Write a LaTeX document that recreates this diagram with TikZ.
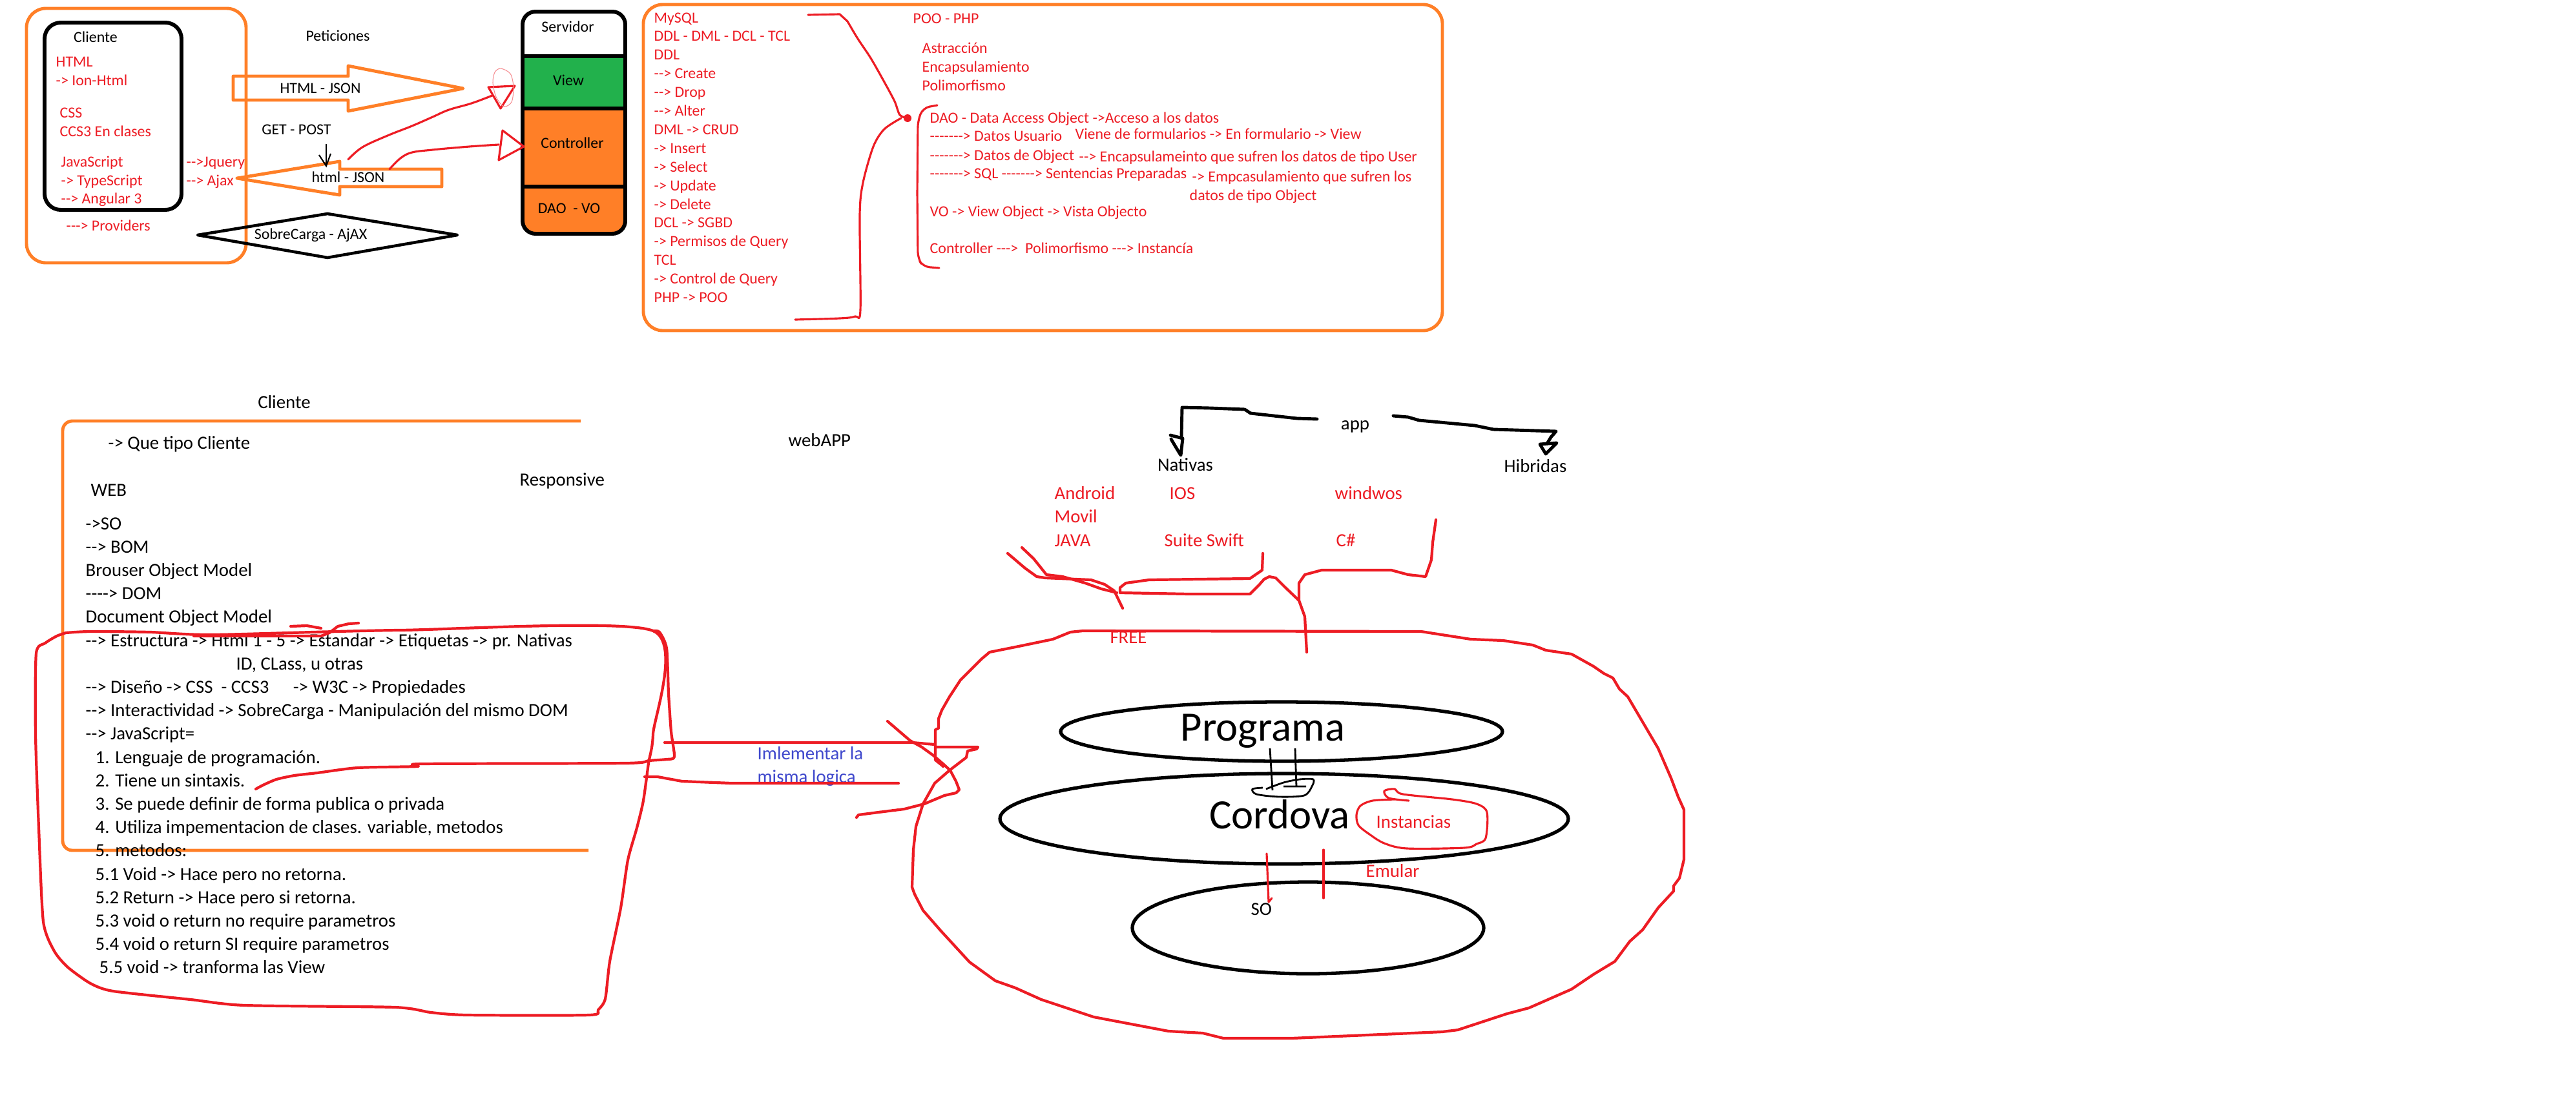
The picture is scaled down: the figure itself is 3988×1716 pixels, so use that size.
\documentclass[tikz,border=0pt]{standalone}
\usepackage{fontspec}
\setmainfont{Carlito}[Ligatures=TeXOff]
\usetikzlibrary{shapes.geometric}
\definecolor{rojo}{HTML}{ED1C24}
\definecolor{naranja}{HTML}{FF7F27}
\definecolor{verde}{HTML}{22B14C}
\definecolor{azul}{HTML}{3F48CC}

\begin{document}
\begin{tikzpicture}[x=0.1mm, y=-0.1mm,
    sm/.style={font=\fontsize{6.8}{8}\selectfont, inner sep=0pt, anchor=base west},
    md/.style={font=\fontsize{8.2}{10}\selectfont, inner sep=0pt, anchor=base west},
    big/.style={font=\fontsize{18.4}{21}\selectfont, inner sep=0pt, anchor=base},
    rtxt/.style={text=rojo},
    orng/.style={draw=naranja, line width=1.4pt, line join=round},
    trazo/.style={draw=rojo, line width=1.2pt, line join=round, line cap=round},
    fino/.style={draw=rojo, line width=0.9pt, line join=round, line cap=round},
    blk/.style={draw=black, line width=1.4pt, line join=round, line cap=round},
    oval/.style={ellipse, draw, line width=1.5pt, inner sep=0pt}]

\useasboundingbox[fill=white] (0,0) rectangle (3988,1716);

% cliente / servidor
\draw[orng, rounded corners=3mm] (41,13) rectangle (381,407);
\draw[line width=1.7pt, rounded corners=2.5mm] (69,35) rectangle (281,325);
\node[sm, anchor=base] (cliente) at (148,65) {Cliente};
\node[sm, rtxt] (html) at (86,103) {HTML};
\node[sm, rtxt] (ionhtml) at (86,132) {-> Ion-Html};
\node[sm, rtxt] (css) at (92,182) {CSS};
\node[sm, rtxt] (ccs) at (92,211) {CCS3 En clases};
\node[sm, rtxt] (js) at (94,258) {JavaScript};
\node[sm, rtxt] (ts) at (94,287) {-> TypeScript};
\node[sm, rtxt] (ang) at (94,315) {--> Angular 3};
\node[sm, rtxt] (jquery) at (288,258) {-->Jquery};
\node[sm, rtxt] (ajax) at (288,287) {--> Ajax};
\node[sm, rtxt] (prov) at (102,357) {---> Providers};

\node[sm, anchor=base] (peticiones) at (523,63) {Peticiones};
\draw[orng] (361,118) -- (539,118) -- (539,102) -- (717,137) -- (539,172) -- (539,155) -- (361,155) -- cycle;
\node[sm, anchor=base] (htmljson) at (496,144) {HTML - JSON};
\node[sm, anchor=base] (getpost) at (459,208) {GET - POST};
\draw[orng] (684,262) -- (526,262) -- (526,250) -- (367,276) -- (526,302) -- (526,289) -- (684,289) -- cycle;
\node[sm, anchor=base] (htmljson2) at (539,282) {html - JSON};
\draw[line width=0.6pt] (505,223) -- (505,257);
\draw[line width=0.6pt] (494,240) -- (505,257) -- (512,238);
\draw[line width=1.3pt, line join=round] (306,364) -- (507,331) -- (708,364) -- (507,399) -- cycle;
\node[sm, anchor=base] (sobrecarga) at (481,370) {SobreCarga - AjAX};

\fill[naranja, rounded corners=2mm] (809,18) rectangle (968,362);
\fill[white, rounded corners=2mm] (809,18) rectangle (968,130);
\fill[verde] (809,87) rectangle (968,168);
\draw[line width=1.7pt] (809,87) -- (968,87) (809,168) -- (968,168) (809,289) -- (968,289);
\draw[line width=1.7pt, rounded corners=2mm] (809,18) rectangle (968,362);
\node[sm, anchor=base] (servidor) at (879,49) {Servidor};
\node[sm, anchor=base] (view) at (880,132) {View};
\node[sm, anchor=base] (controller) at (886,229) {Controller};
\node[sm, anchor=base] (daovo) at (881,330) {DAO\ \ - VO};

\draw[fino] plot[smooth, tension=0.6] coordinates {(539,247) (561,228) (600,210) (638,195) (670,181) (695,170) (730,160) (762,148)};
\draw[fino] (756,135) -- (797,133) -- (775,168) -- cycle;
\draw[rojo!50, line width=0.3pt] plot[smooth cycle] coordinates {(775,106) (790,114) (795,135) (792,158) (780,165) (768,150) (763,128) (766,112)};
\draw[fino] plot[smooth, tension=0.6] coordinates {(603,262) (620,245) (638,236) (670,232) (702,229) (740,226) (772,224)};
\draw[fino] (778,202) -- (811,227) -- (772,248) -- cycle;

% base de datos / POO
\draw[orng, rounded corners=3mm] (996,7) rectangle (2233,512);
\foreach \t [count=\i from 0] in {MySQL, DDL - DML - DCL - TCL, DDL, --> Create, --> Drop, --> Alter,
    DML -> CRUD, -> Insert, -> Select, -> Update, -> Delete, DCL -> SGBD,
    -> Permisos de Query, TCL, -> Control de Query, PHP -> POO}
  \node[sm, rtxt] (sql\i) at (1012,{35+28.9*\i}) {\t};
\draw[fino] (1251,23) -- (1300,22) -- (1312,33);
\draw[fino] plot[smooth, tension=0.5] coordinates {(1312,33) (1328,60) (1348,90) (1369,127) (1385,157) (1393,178) (1405,183)};
\fill[rojo] (1405,183) circle[radius=6];
\draw[fino] plot[smooth, tension=0.5] coordinates {(1395,183) (1369,200) (1352,227) (1336,283) (1331,333) (1332,480) (1324,490) (1300,493) (1231,495)};
\draw[fino, rounded corners=1mm] (1451,163) -- (1429,167) -- (1421,187) -- (1420,300) -- (1421,400) -- (1429,413) -- (1454,415);

\node[sm, rtxt] (poo) at (1413,37) {POO - PHP};
\node[sm, rtxt] (abs) at (1427,82) {Astracción};
\node[sm, rtxt] (enc) at (1427,111) {Encapsulamiento};
\node[sm, rtxt] (pol) at (1427,140) {Polimorfismo};
\node[sm, rtxt] (dao) at (1439,190) {DAO - Data Access Object ->Acceso a los datos};
\node[sm, rtxt] (usuario) at (1439,218) {-------> Datos Usuario};
\node[sm, rtxt] (viene) at (1664,215) {Viene de formularios -> En formulario -> View};
\node[sm, rtxt] (object) at (1439,248) {-------> Datos de Object};
\node[sm, rtxt] (encuser) at (1670,250) {--> Encapsulameinto que sufren los datos de tipo User};
\node[sm, rtxt] (sqlprep) at (1439,276) {-------> SQL -------> Sentencias Preparadas};
\node[sm, rtxt] (encobj) at (1845,281) {-> Empcasulamiento que sufren los};
\node[sm, rtxt] (encobj2) at (1841,310) {datos de tipo Object};
\node[sm, rtxt] (vo) at (1439,335) {VO -> View Object -> Vista Objecto};
\node[sm, rtxt] (ctrl) at (1439,392) {Controller --->\ \ Polimorfismo ---> Instancía};

% cliente web
\node[md, anchor=base] (cliente2) at (440,632) {Cliente};
\draw[orng, rounded corners=1.5mm] (899,652) -- (97,652) -- (97,1317) -- (911,1317);
\node[md] (tipo) at (167,695) {-> Que tipo Cliente};
\node[md] (web) at (140,768) {WEB};
\node[md] (responsive) at (804,752) {Responsive};
\node[md] (webapp) at (1220,691) {webAPP};
\foreach \xx/\t [count=\i from 0] in {132/->SO, 132/--> BOM, 132/Brouser Object Model, 132/----> DOM,
    132/Document Object Model,
    132/--> Estructura -> Html 1 - 5 -> Estandar -> Etiquetas -> pr. Nativas,
    365/{ID, CLass, u otras},
    132/{--> Diseño -> CSS\ \ - CCS3\hspace{1.3em}-> W3C -> Propiedades},
    132/--> Interactividad -> SobreCarga - Manipulación del mismo DOM,
    132/--> JavaScript=,
    147/1. Lenguaje de programación.,
    147/2. Tiene un sintaxis.,
    147/3. Se puede definir de forma publica o privada,
    147/{4. Utiliza impementacion de clases. variable, metodos},
    147/5. metodos:,
    147/5.1 Void -> Hace pero no retorna.,
    147/5.2 Return -> Hace pero si retorna.,
    147/5.3 void o return no require parametros,
    147/5.4 void o return SI require parametros,
    153/5.5 void -> tranforma las View}
  \node[md] (dom\i) at (\xx,{820+36.2*\i}) {\t};

\draw[trazo] plot[smooth, tension=0.4] coordinates {(102,980) (140,978) (232,979) (330,983) (619,976) (1011,977)
    (1011,1137) (1004,1182) (996,1240) (986,1282) (972,1332) (961,1406) (944,1489) (937,1547) (926,1564) (912,1572)
    (723,1572) (667,1568) (611,1560) (379,1557) (295,1548) (175,1535) (140,1523) (105,1498) (84,1473) (67,1427)
    (60,1282) (55,1137) (56,1012) (70,996) (88,985) (102,980)};
\draw[trazo] plot[smooth, tension=0.4] coordinates {(1011,977) (1021,979) (1032,1004) (1035,1074) (1039,1133) (1044,1172)
    (1032,1176) (1004,1178) (968,1182) (653,1183) (646,1187) (554,1189) (491,1197) (456,1201) (428,1207) (407,1216) (396,1222)};
\draw[trazo] (300,985) -- (497,985) -- (510,980) -- (523,970) -- (540,966) -- (555,965);
\draw[trazo] (450,970) -- (475,969) -- (497,973);

% enlace con la app
\node[md, text=azul] (logica1) at (1172,1176) {Imlementar la};
\node[md, text=azul] (logica2) at (1172,1212) {misma logica};
\draw[trazo] (998,1203) -- (1018,1203) -- (1056,1210) -- (1132,1213) -- (1391,1213);

% app
\node[md, anchor=base] (app) at (2098,665) {app};
\node[md, anchor=base] (nativas) at (1835,729) {Nativas};
\node[md, anchor=base] (hibridas) at (2377,731) {Hibridas};
\draw[blk] (2039,649) -- (2008,648) -- (1936,640) -- (1927,634) -- (1873,632) -- (1830,631) -- (1829,677);
\draw[blk] (1812,674) -- (1831,679) -- (1828,705) -- (1820,692) -- (1813,680);
\draw[blk] (2157,644) -- (2180,646) -- (2197,651) -- (2283,659) -- (2312,665) -- (2409,668) -- (2401,677) -- (2395,687);
\draw[blk] (2384,688) -- (2410,686) -- (2393,703) -- cycle;
\node[md, rtxt] (android) at (1632,773) {Android};
\node[md, rtxt] (movil) at (1632,809) {Movil};
\node[md, rtxt] (java) at (1632,846) {JAVA};
\node[md, rtxt] (ios) at (1810,773) {IOS};
\node[md, rtxt] (swift) at (1802,846) {Suite Swift};
\node[md, rtxt] (windows) at (2066,773) {windwos};
\node[md, rtxt] (csharp) at (2068,846) {C\#};

\draw[trazo] (2223,805) -- (2218,840) -- (2216,867) -- (2207,893) -- (2180,890) -- (2154,883) -- (2046,883) -- (2020,890) -- (2011,903) -- (2011,930) -- (2020,955) -- (2023,1010);
\draw[trazo] (1955,857) -- (1954,883) -- (1935,896) -- (1779,898) -- (1743,903) -- (1734,910) -- (1734,918) -- (1841,920) -- (1935,920) -- (1950,905) -- (1957,897) -- (1965,893) -- (1975,895) -- (1990,910) -- (2011,930);
\draw[trazo] (1560,857) -- (1587,880) -- (1605,893) -- (1618,895) -- (1689,898) -- (1710,905) -- (1725,915) -- (1738,942);
\draw[trazo] (1582,848) -- (1600,865) -- (1620,890) -- (1645,893) -- (1680,903) -- (1705,912) -- (1729,918);

\node[md, rtxt, anchor=base] (free) at (1747,996) {FREE};
\draw[trazo] (1029,1150) -- (1413,1150) -- (1447,1153) -- (1449,1157) -- (1514,1157) -- (1512,1160) -- (1498,1163) -- (1496,1173)
    -- (1470,1193) -- (1447,1213) -- (1429,1245) -- (1418,1280) -- (1414,1316) -- (1412,1374) -- (1416,1385) -- (1429,1410)
    -- (1456,1441) -- (1501,1490) -- (1541,1519) -- (1572,1530) -- (1612,1548) -- (1693,1575) -- (1809,1597) -- (1862,1600)
    -- (1894,1608) -- (2000,1608) -- (2233,1598) -- (2257,1595) -- (2333,1570) -- (2367,1561) -- (2433,1532) -- (2467,1509)
    -- (2500,1489) -- (2523,1458) -- (2543,1440) -- (2567,1406) -- (2591,1380) -- (2591,1372) -- (2600,1360) -- (2607,1331)
    -- (2607,1254) -- (2598,1234) -- (2587,1205) -- (2567,1159) -- (2530,1096) -- (2520,1079) -- (2507,1067) -- (2497,1050)
    -- (2483,1043) -- (2467,1032) -- (2433,1013) -- (2393,1007) -- (2373,999) -- (2327,992) -- (2277,990) -- (2200,978)
    -- (1676,977) -- (1657,979) -- (1630,990) -- (1577,1001) -- (1532,1010) -- (1519,1021) -- (1487,1053) -- (1470,1079)
    -- (1458,1100) -- (1453,1113) -- (1453,1128) -- (1448,1130) -- (1448,1177) -- (1458,1185) -- (1460,1187);
\draw[trazo] (1374,1117) -- (1409,1147) -- (1427,1157) -- (1445,1170) -- (1460,1183) -- (1471,1193) -- (1480,1210) -- (1485,1223)
    -- (1480,1228) -- (1462,1232) -- (1431,1245) -- (1400,1253) -- (1360,1258) -- (1329,1262) -- (1326,1266);

% capas de la app
\node[oval, minimum width=68.4mm, minimum height=9.2mm] (ovprog) at (1984,1133) {};
\node[oval, minimum width=88mm, minimum height=14mm] (ovcord) at (1988,1268) {};
\node[oval, minimum width=54.4mm, minimum height=14.2mm] (ovso) at (2025,1437) {};
\node[big] (programa) at (1955,1147) {Programa};
\node[big] (cordova) at (1981,1283) {Cordova};
\draw[line width=0.8pt] (1966,1159) -- (1970,1224) (2005,1159) -- (2007,1218) (1987,1218) -- (2022,1218);
\draw[line width=0.8pt] plot[smooth] coordinates {(1955,1220) (1939,1222) (1945,1230) (1980,1234) (2019,1232) (2031,1218) (2033,1207) (2012,1207) (1987,1212) (1960,1222)};
\node[md, rtxt] (instancias) at (2130,1282) {Instancias};
\draw[fino] plot[smooth, tension=0.5] coordinates {(2181,1240) (2150,1236) (2143,1225) (2159,1222) (2172,1230) (2248,1238) (2286,1245) (2302,1258)
    (2300,1298) (2286,1307) (2267,1313) (2178,1314) (2143,1306) (2120,1292) (2103,1278) (2100,1262) (2106,1248) (2125,1240) (2160,1238)};
\node[md, rtxt] (emular) at (2114,1358) {Emular};
\node[md] (so) at (1936,1417) {SO};
\draw[fino] (1961,1322) -- (1964,1397) -- (1969,1391);
\draw[fino] (2049,1316) -- (2049,1391);
\end{tikzpicture}
\end{document}
